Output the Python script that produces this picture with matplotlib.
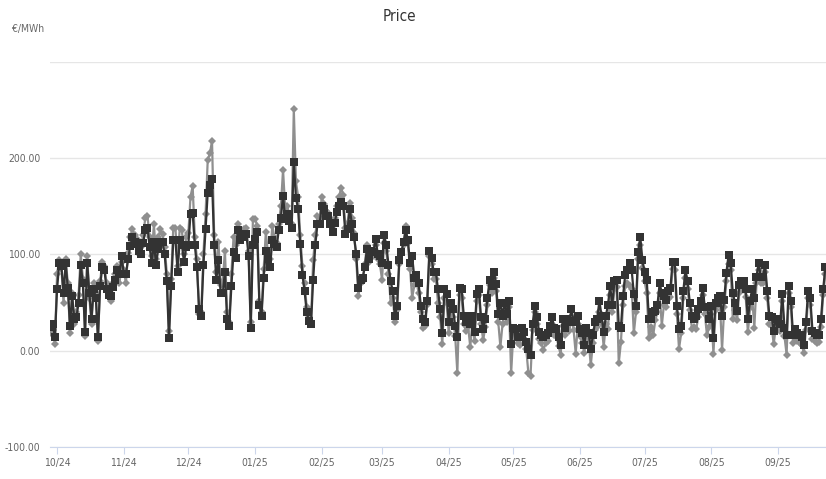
import numpy as np
import pandas as pd
import matplotlib
matplotlib.use('Agg')
import matplotlib.pyplot as plt
import matplotlib.dates as mdates
from matplotlib import font_manager

# daily prices (EUR/MWh)
start_date = '2024-09-28'

dark_prices = [
    # late Sep / Oct 2024
    25, 28, 14, 64, 91, 88, 60, 91, 65, 26, 57, 33, 35, 50, 89, 70, 19, 91, 60, 33,
    64, 55, 14, 67, 87, 84, 64, 58,
    # late Oct / Nov
    57, 66, 74, 84, 80, 98, 80, 80, 95, 109, 118, 113, 111, 104, 101, 112, 125, 128, 108, 91,
    113, 89, 106, 113, 113, 100, 72, 13, 67, 115,
    # Dec
    115, 82, 115, 110, 92, 108, 110, 142, 143, 110, 87, 43, 36, 89, 127, 164, 172, 178, 110, 74,
    94, 60, 60, 82, 33, 26, 67, 103, 96, 125,
    # Jan 2025
    115, 118, 121, 121, 98, 24, 110, 116, 123, 48, 36, 76, 104, 95, 87, 115, 111, 108, 125, 138,
    161, 137, 142, 135, 128, 196, 159, 147, 111, 79, 62,
    # Feb
    40, 31, 28, 74, 110, 132, 132, 150, 147, 140, 140, 132, 123, 133, 144, 150, 155, 150, 121, 127,
    147, 132, 118, 101, 65, 74, 76, 87, 106, 95,
    # Mar
    104, 103, 116, 101, 98, 91, 120, 110, 89, 72, 62, 36, 47, 94, 103, 113, 125, 115, 91, 98,
    76, 79, 70, 47, 33, 30, 52, 104, 96, 82,
    # Apr
    82, 64, 43, 18, 64, 59, 30, 50, 43, 26, 14, 65, 64, 36, 30, 35, 28, 36, 19, 59,
    64, 35, 23, 33, 55, 74, 67, 82, 69, 38,
    # May
    50, 36, 50, 38, 52, 7, 24, 23, 14, 14, 24, 19, 9, 2, -4, 28, 47, 35, 19, 16,
    14, 16, 18, 26, 35, 24, 23, 14, 6, 33, 24,
    # Jun
    33, 30, 43, 31, 30, 36, 23, 18, 6, 24, 18, 2, 16, 30, 33, 52, 36, 19, 36, 48,
    67, 48, 72, 74, 26, 24, 57, 79, 84, 91,
    # Jul
    84, 59, 47, 103, 118, 94, 82, 74, 33, 33, 40, 41, 48, 70, 60, 57, 53, 62, 65, 92,
    92, 47, 23, 26, 62, 84, 72, 50, 36, 33,
    # Aug
    36, 43, 52, 65, 45, 45, 33, 47, 13, 50, 55, 57, 36, 53, 81, 99, 91, 60, 50, 41,
    68, 72, 72, 64, 33, 52, 64, 55, 77, 91, 77,
    # Sep
    77, 89, 62, 36, 35, 21, 33, 33, 28, 59, 24, 16, 67, 52, 16, 23, 18, 16, 14, 6,
    30, 62, 55, 21, 18, 16, 16, 33, 64, 87,
]

gray_prices = [
    18, 22, 7, 80, 94, 86, 50, 95, 70, 18, 60, 28, 40, 58, 100, 75, 15, 98, 55, 28,
    70, 60, 10, 72, 92, 88, 70, 62,
    52, 70, 80, 88, 70, 92, 84, 70, 102, 118, 127, 120, 116, 100, 108, 120, 138, 140, 118, 98,
    132, 95, 118, 126, 121, 108, 80, 20, 75, 128,
    128, 88, 128, 125, 100, 118, 122, 160, 171, 118, 95, 38, 40, 100, 142, 198, 205, 218, 120, 82,
    113, 68, 72, 104, 40, 30, 80, 118, 110, 132,
    122, 124, 126, 128, 104, 30, 137, 137, 130, 52, 40, 85, 123, 102, 95, 130, 118, 112, 132, 150,
    188, 148, 150, 140, 132, 251, 176, 160, 120, 88, 70,
    45, 35, 30, 94, 120, 140, 138, 160, 152, 145, 143, 136, 126, 138, 150, 160, 169, 162, 128, 133,
    154, 138, 122, 95, 57, 70, 72, 90, 110, 92,
    100, 98, 110, 95, 90, 74, 112, 104, 80, 50, 55, 30, 42, 90, 100, 110, 130, 112, 85, 55,
    68, 72, 60, 40, 24, 26, 48, 98, 90, 75,
    75, 50, 35, 7, 55, 50, 18, 42, 35, 15, -23, 58, 55, 28, 20, 25, 4, 30, 10, 52,
    58, 28, 11, 25, 48, 68, 60, 76, 62, 30,
    4, 28, 42, 30, 45, -23, 18, 15, 8, 6, 18, 12, 2, -23, -26, 22, 40, 28, 12, 8,
    1, 8, 10, 20, 28, 16, 15, 5, -4, 26, 16,
    25, 20, 35, 22, -3, 28, 15, 8, -2, 15, 10, -15, 8, 22, 25, 40, 28, 4, 28, 23,
    58, 40, 64, 66, -13, 9, 48, 67, 70, 67,
    64, 18, 40, 95, 110, 86, 72, 60, 13, 25, 16, 32, 40, 60, 26, 48, 45, 54, 56, 85,
    84, 38, 2, 18, 55, 76, 64, 42, 23, 25,
    23, 35, 44, 58, 38, 16, 25, 38, -3, 42, 48, 50, 1, 45, 72, 90, 84, 33, 42, 32,
    60, 64, 65, 56, 19, 44, 55, 24, 70, 84, 70,
    70, 82, 55, 28, 26, 7, 25, 26, 20, 52, 15, -4, 60, 45, 8, 15, 10, 8, 6, -2,
    22, 55, 48, 12, 10, 8, 9, 25, 58, 80,
]

y_ticks = [-100, 0, 100, 200]
y_grid = [-100, 0, 100, 200, 300]

dates = pd.date_range(start_date, periods=len(dark_prices), freq='D')

# narrow font if the system has one, else plain DejaVu
installed = {f.name for f in font_manager.fontManager.ttflist}
families = [f for f in ['Liberation Sans Narrow', 'DejaVu Sans Condensed'] if f in installed]
plt.rcParams['font.family'] = families + ['DejaVu Sans']
plt.rcParams['font.stretch'] = 'condensed'

fig = plt.figure(figsize=(8.26, 4.79), dpi=100)
ax = fig.add_axes([0.0605, 0.0668, 0.9395, 0.8038])

ax.plot(dates, gray_prices, color='#8f8f8f', linewidth=1.6, marker='D',
        markersize=4.4, markeredgewidth=0, zorder=2)
ax.plot(dates, dark_prices, color='#333333', linewidth=1.6, marker='s',
        markersize=5.3, markeredgewidth=0, zorder=3)

ax.set_ylim(-100, 300)
ax.set_xlim(dates[0] - pd.Timedelta(days=0.3), dates[-1] + pd.Timedelta(days=0.3))

for v in y_grid:
    ax.axhline(v, color='#e6e6e6', linewidth=1, zorder=0)
ax.set_yticks(y_ticks)
ax.set_yticklabels([f'{v:.2f}' for v in y_ticks], fontsize=7.5, color='#666666')
ax.tick_params(axis='y', length=0, pad=7)

ax.xaxis.set_major_locator(mdates.MonthLocator())
ax.xaxis.set_major_formatter(mdates.DateFormatter('%m/%y'))
ax.tick_params(axis='x', length=5, color='#ccd6eb', labelsize=7.5, labelcolor='#666666', pad=3)

for side in ['top', 'right', 'left']:
    ax.spines[side].set_visible(False)
ax.spines['bottom'].set_color('#ccd6eb')
ax.spines['bottom'].set_position(('data', -100))

fig.text(0.484, 0.965, 'Price', ha='center', va='center', fontsize=11, color='#333333')
fig.text(0.014, 0.94, '€/MWh', ha='left', va='center', fontsize=7.5, color='#666666')

fig.savefig('out.png', dpi=100)
